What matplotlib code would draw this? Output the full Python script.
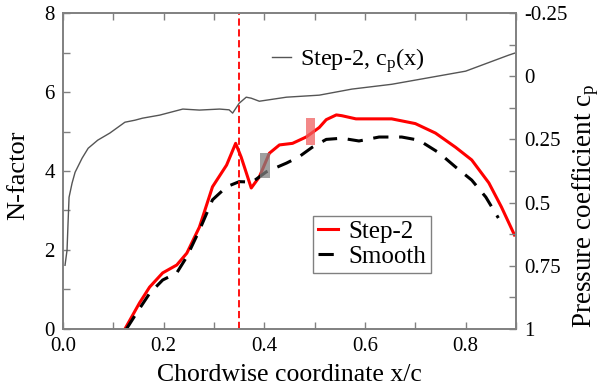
import matplotlib
matplotlib.use("Agg")
import matplotlib.pyplot as plt
from matplotlib.patches import Rectangle
from matplotlib.ticker import MultipleLocator

plt.rcParams['font.family'] = ['Liberation Serif', 'DejaVu Serif']
plt.rcParams['mathtext.fontset'] = 'custom'
plt.rcParams['mathtext.rm'] = 'Liberation Serif'
plt.rcParams['mathtext.it'] = 'Liberation Serif:italic'

# pressure coefficient along the chord (right axis)
x_cp = [0.004, 0.008, 0.010, 0.012, 0.018, 0.024, 0.038, 0.050, 0.069, 0.093,
        0.123, 0.143, 0.158, 0.192, 0.238, 0.271, 0.311, 0.330, 0.337, 0.350,
        0.364, 0.374, 0.390, 0.444, 0.509, 0.574, 0.653, 0.721, 0.800, 0.885,
        0.897]
cp = [0.748, 0.688, 0.581, 0.479, 0.423, 0.380, 0.324, 0.285, 0.253, 0.225,
      0.182, 0.174, 0.166, 0.154, 0.130, 0.134, 0.130, 0.133, 0.146, 0.107,
      0.083, 0.087, 0.099, 0.083, 0.075, 0.051, 0.032, 0.008, -0.020, -0.083,
      -0.091]

# N-factor, step case
x_step = [0.123, 0.152, 0.172, 0.198, 0.226, 0.246, 0.271, 0.297, 0.325, 0.343,
          0.354, 0.374, 0.390, 0.410, 0.430, 0.456, 0.483, 0.509, 0.523, 0.543,
          0.554, 0.582, 0.653, 0.700, 0.740, 0.780, 0.812, 0.846, 0.871, 0.897]
n_step = [0.0, 0.66, 1.06, 1.42, 1.62, 1.92, 2.58, 3.60, 4.15, 4.70,
          4.35, 3.57, 3.85, 4.45, 4.66, 4.70, 4.86, 5.10, 5.30, 5.42,
          5.40, 5.32, 5.32, 5.20, 4.96, 4.60, 4.28, 3.70, 3.09, 2.38]

# N-factor, smooth case
x_smooth = [0.126, 0.146, 0.172, 0.198, 0.226, 0.246, 0.271, 0.297, 0.325, 0.350,
            0.376, 0.404, 0.444, 0.469, 0.495, 0.523, 0.554, 0.588, 0.628, 0.673,
            0.707, 0.747, 0.780, 0.812, 0.840, 0.865]
n_smooth = [0.0, 0.40, 0.90, 1.24, 1.42, 1.83, 2.50, 3.27, 3.60, 3.73,
            3.72, 3.98, 4.20, 4.36, 4.60, 4.80, 4.83, 4.76, 4.86, 4.86,
            4.78, 4.46, 4.10, 3.77, 3.34, 2.81]

step_location = 0.35
# highlighted regions: (x0, x1, n0, n1)
grey_box = (0.392, 0.412, 3.82, 4.46)
red_box = (0.483, 0.501, 4.66, 5.34)

fig = plt.figure(figsize=(6.1, 3.86), dpi=100)
ax = fig.add_axes([0.1033, 0.1477, 0.7426, 0.8186])
ax2 = ax.twinx()

ax2.plot(x_cp, cp, color='#555555', lw=1.0, label=r'Step-2, c$_\mathrm{p}$(x)')
ax.plot(x_step, n_step, color='red', lw=2.2, label='Step-2')
ax.plot(x_smooth, n_smooth, color='black', lw=2.2, dashes=(5, 3.5), label='Smooth')
ax.axvline(step_location, color='red', lw=1.3, dashes=(4, 2))

for (x0, x1, n0, n1), c in [(grey_box, '#808080'), (red_box, '#f06060')]:
    ax.add_patch(Rectangle((x0, n0), x1 - x0, n1 - n0, facecolor=c,
                           edgecolor='none', alpha=0.75, zorder=3))

ax.set_xlim(0, 0.9)
ax.set_ylim(0, 8)
ax2.set_ylim(1, -0.25)

ax.xaxis.set_major_locator(MultipleLocator(0.2))
ax.xaxis.set_minor_locator(MultipleLocator(0.1))
ax.yaxis.set_major_locator(MultipleLocator(2))
ax.yaxis.set_minor_locator(MultipleLocator(1))
ax2.yaxis.set_major_locator(MultipleLocator(0.25))
ax2.yaxis.set_minor_locator(MultipleLocator(0.125))
ax.xaxis.set_major_formatter(plt.FuncFormatter(lambda v, p: f'{v:.1f}'))
ax.yaxis.set_major_formatter(plt.FuncFormatter(lambda v, p: f'{v:g}'))
ax2.yaxis.set_major_formatter(plt.FuncFormatter(lambda v, p: f'{v:g}'))

spine_col = '#808080'
for a in (ax, ax2):
    for s in a.spines.values():
        s.set_color(spine_col)
        s.set_linewidth(1.2)
    a.tick_params(which='both', direction='in', length=5, width=1,
                  color=spine_col, labelsize=15, pad=6)
ax.tick_params(which='both', top=True)

ax.set_xlabel('Chordwise coordinate x/c', fontsize=18.5)
ax.set_ylabel('N-factor', fontsize=19)
ax2.set_ylabel(r'Pressure coefficient c$_\mathrm{p}$', fontsize=19.5)
ax.xaxis.set_label_coords(0.5, -0.11)
ax.yaxis.set_label_coords(-0.075, 0.487)
ax2.yaxis.set_label_coords(1.12, 0.39)

leg = ax.legend(loc='lower left', bbox_to_anchor=(0.552, 0.177), fontsize=18,
                fancybox=False, edgecolor=spine_col, framealpha=1,
                handlelength=0.8, handletextpad=0.4, borderpad=0.2,
                labelspacing=0.1, borderaxespad=0)
leg.get_frame().set_linewidth(1.0)

ax2.legend(loc='upper left', bbox_to_anchor=(0.44, 0.925), fontsize=17.5,
           frameon=False, handlelength=0.8, handletextpad=0.35, borderaxespad=0)

fig.savefig('out.png', dpi=100)
